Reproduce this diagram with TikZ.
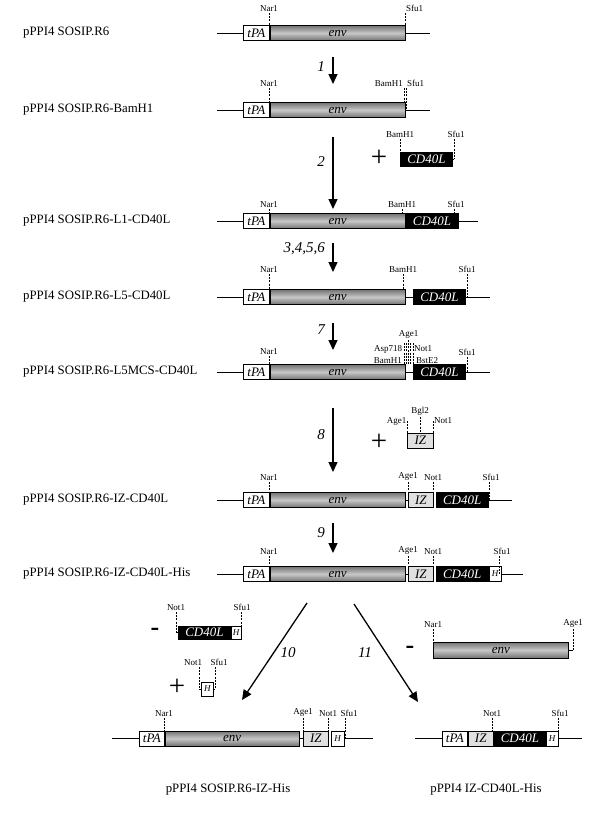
\documentclass[tikz,border=0pt]{standalone}
\usepackage{fontspec}
\setmainfont{Liberation Serif}
\usetikzlibrary{positioning,arrows.meta}
\newcommand{\sitefont}{\fontsize{9}{10}\selectfont}
\newcommand{\segfont}{\fontsize{13}{14}\selectfont\itshape}
% restriction site: name, x, top of cut, bottom of cut, label
\newcommand{\site}[6][]{%
	\coordinate (#2t) at (#3,#4);
	\coordinate (#2b) at (#3,#5);
	\node[site,#1] (#2) at (#2t) {#6};
	\draw[cut] (#2t) -- (#2b);
}
\tikzset{
	seg/.style={draw, line width=0.8pt, minimum height=15pt, inner sep=0pt, anchor=west, font=\segfont},
	tpa/.style={seg, fill=white, minimum width=26pt},
	envbox/.style={seg, minimum width=135pt, top color=black!55, bottom color=black!55, middle color=black!22},
	cdl/.style={seg, fill=black, text=white, minimum width=52pt},
	iz/.style={seg, fill=black!12, minimum width=25pt},
	his/.style={seg, fill=white, minimum width=12pt, font=\fontsize{9}{10}\selectfont\itshape},
	site/.style={anchor=south, inner sep=1pt, font=\sitefont},
	cut/.style={line width=0.8pt, dash pattern=on 2pt off 1.2pt},
	bb/.style={line width=1pt},
	title/.style={anchor=west, inner sep=0pt, font=\fontsize{12.8}{14}\selectfont},
	num/.style={inner sep=1pt, font=\fontsize{15}{16}\selectfont\itshape},
	convert/.style={line width=1.3pt, -{Triangle[length=10pt,width=9pt]}},
	plus/.style={inner sep=0pt, font=\fontsize{29}{29}\selectfont},
	minus/.style={inner sep=0pt, font=\fontsize{26}{26}\selectfont\bfseries}
}
\begin{document}
\begin{tikzpicture}[x=1pt,y=-1pt]
	\useasboundingbox (0,0) rectangle (600,814);
	% the seven constructs, all with tPA-env
	\foreach \y/\d/\txt [count=\k] in {33/20/{pPPI4 SOSIP.R6}, 110/22/{pPPI4 SOSIP.R6-BamH1}, 221/12/{pPPI4 SOSIP.R6-L1-CD40L}, 297/23/{pPPI4 SOSIP.R6-L5-CD40L}, 372/16/{pPPI4 SOSIP.R6-L5MCS-CD40L}, 500/18/{pPPI4 SOSIP.R6-IZ-CD40L}, 574/18/{pPPI4 SOSIP.R6-IZ-CD40L-His}}{
		\node[title] (p\k) at (23,\y) {\txt};
		\coordinate (l\k) at (217,\y);
		\node[tpa] (t\k) at (243,\y) {tPA};
		\node[envbox, right=0pt of t\k] (e\k) {env};
		\draw[bb] (l\k) -- (t\k);
		\site{nar\k}{269}{\y-\d}{\y-7.5}{Nar1}
	}
	% steps
	\foreach \ya/\yb/\yl/\num [count=\k] in {57/84/67/1, 137/209/162/2, 243/272/249/{3,4,5,6}, 323/350/330/7, 408/472/435/8, 523/553/533/9}{
		\coordinate (s\k) at (333,\ya);
		\coordinate (f\k) at (333,\yb);
		\draw[convert] (s\k) -- (f\k);
		\node[num, anchor=east] (n\k) at (326,\yl) {\num};
	}
	
	% row 1
	\coordinate (r1) at (430,33);
	\draw[bb] (e1) -- (r1);
	\site[anchor=south west]{sfu1}{405}{13}{33}{Sfu1}
	
	% row 2
	\coordinate (r2) at (430,110);
	\draw[bb] (e2) -- (r2);
	\site[anchor=south east]{bam2}{404}{88}{102.5}{BamH1}
	\site[anchor=south west]{sfu2}{406}{88}{110}{Sfu1}
	
	% CD40L insert
	\node[plus] (plusA) at (379,158) {+};
	\node[cdl, minimum height=14pt] (cdA) at (400,159) {CD40L};
	\site{bamA}{400}{139}{152}{BamH1}
	\site[xshift=2pt]{sfuA}{454}{139}{159}{Sfu1}
	\draw[line width=0.8pt] (sfuAb) -- (cdA.east);
	
	% row 3
	\node[cdl, right=0pt of e3] (cd3) {CD40L};
	\coordinate (r3) at (478,221);
	\draw[bb] (cd3) -- (r3);
	\site{bam3}{402}{209}{213.5}{BamH1}
	\site[xshift=2pt]{sfu3}{454}{209}{221}{Sfu1}
	
	% row 4
	\node[cdl] (cd4) at (413,297) {CD40L};
	\coordinate (r4) at (490,297);
	\draw[bb] (e4) -- (cd4) (cd4) -- (r4);
	\site{bam4}{403}{274}{289.5}{BamH1}
	\site{sfu4}{467}{274}{297}{Sfu1}
	
	% row 5, multiple cloning site
	\node[cdl] (cd5) at (413,372) {CD40L};
	\coordinate (r5) at (490,372);
	\draw[bb] (e5) -- (cd5) (cd5) -- (r5);
	\site{age5}{408.5}{340}{364.5}{Age1}
	\site[anchor=east, xshift=-3pt, yshift=-6pt]{asp5}{406.2}{343}{364.5}{Asp718}
	\site[anchor=west, xshift=2pt, yshift=-6pt]{not5}{410.8}{343}{364.5}{Not1}
	\site[anchor=east, xshift=-1pt, yshift=-18pt]{bam5}{404}{343}{364.5}{BamH1}
	\site[anchor=west, xshift=2pt, yshift=-18pt]{bst5}{413}{343}{364.5}{BstE2}
	\site{sfu5}{467}{357}{372}{Sfu1}
	
	% IZ insert
	\node[plus] (plusB) at (379,442) {+};
	\node[iz, minimum width=26pt] (izB) at (407,440.5) {IZ};
	\site[anchor=east]{ageB}{407.5}{421}{433}{Age1}
	\site{bglB}{420}{417}{433}{Bgl2}
	\site[anchor=west]{notB}{433}{421}{433}{Not1}
	
	% row 6
	\node[iz] (iz6) at (408,500) {IZ};
	\node[cdl, right=2pt of iz6] (cd6) {CD40L};
	\coordinate (r6) at (512,500);
	\draw[bb] (e6) -- (iz6) (cd6) -- (r6);
	\site{age6}{408}{482}{492.5}{Age1}
	\site{not6}{433}{482}{492.5}{Not1}
	\site[xshift=2pt]{sfu6}{489}{482}{500}{Sfu1}
	
	% row 7
	\node[iz] (iz7) at (408,574) {IZ};
	\node[cdl, right=2pt of iz7] (cd7) {CD40L};
	\node[his, right=0pt of cd7] (h7) {H};
	\coordinate (r7) at (523,574);
	\draw[bb] (e7) -- (iz7) (h7) -- (r7);
	\site{age7}{408}{556}{566.5}{Age1}
	\site{not7}{433}{556}{566.5}{Not1}
	\site[xshift=3pt]{sfu7}{499}{556}{574}{Sfu1}
	
	% steps 10 and 11
	\coordinate (s10) at (307,603);
	\coordinate (f10) at (242,700);
	\coordinate (s11) at (354,604);
	\coordinate (f11) at (418,702);
	\draw[convert] (s10) -- (f10);
	\draw[convert] (s11) -- (f11);
	\node[num] (n10) at (288,653) {10};
	\node[num] (n11) at (365,653) {11};
	
	% removed CD40L-H
	\node[minus] (minusA) at (155,632) {-};
	\node[cdl, minimum height=13pt] (cdM) at (178,632.5) {CD40L};
	\node[his, minimum height=13pt, minimum width=10pt, right=0pt of cdM] (hM) {H};
	\site{notM}{176}{612}{632.5}{Not1}
	\site[xshift=1pt]{sfuM}{241}{612}{632.5}{Sfu1}
	\draw[line width=0.8pt] (notMb) -- (cdM.west) (sfuMb) -- (hM.east);
	
	% added H
	\node[plus] (plusC) at (177,687) {+};
	\node[his, minimum height=14pt] (hP) at (201,689) {H};
	\site[xshift=-6pt]{notP}{199}{667}{689}{Not1}
	\site[xshift=4pt]{sfuP}{215}{667}{689}{Sfu1}
	\draw[line width=0.8pt] (notPb) -- (hP.west) (sfuPb) -- (hP.east);
	
	% removed env
	\node[minus] (minusB) at (410,650) {-};
	\node[envbox, minimum height=16pt] (envR) at (433,650) {env};
	\site{narR}{433}{629}{642}{Nar1}
	\site{ageR}{573}{629}{650}{Age1}
	\draw[line width=0.8pt] (ageRb) -- (envR.east);
	
	% pPPI4 SOSIP.R6-IZ-His
	\coordinate (lL) at (112,738.5);
	\coordinate (rL) at (373,738.5);
	\node[tpa, minimum width=25pt] (tL) at (139,738.5) {tPA};
	\node[envbox, minimum width=134pt, right=0pt of tL] (eL) {env};
	\node[iz] (izL) at (303,738.5) {IZ};
	\node[his, minimum width=13pt, right=2pt of izL] (hL) {H};
	\draw[bb] (lL) -- (tL) (eL) -- (izL) (hL) -- (rL);
	\site{narL}{164}{717.5}{731}{Nar1}
	\site{ageL}{303}{717.5}{731}{Age1}
	\site{notL}{328}{717.5}{731}{Not1}
	\site[xshift=4pt]{sfuL}{345}{717.5}{738.5}{Sfu1}
	\node[title, anchor=center] (capL) at (228,790) {pPPI4 SOSIP.R6-IZ-His};
	
	% pPPI4 IZ-CD40L-His
	\coordinate (lR) at (415,738.5);
	\coordinate (rR) at (582,738.5);
	\node[tpa, minimum width=25pt] (tR) at (442,738.5) {tPA};
	\node[iz, right=0pt of tR] (izR) {IZ};
	\node[cdl, minimum width=51pt] (cdR) at (494,738.5) {CD40L};
	\node[his, right=0pt of cdR] (hR) {H};
	\draw[bb] (lR) -- (tR) (izR) -- (cdR) (hR) -- (rR);
	\site{notR}{492}{717.5}{731}{Not1}
	\site[xshift=2pt]{sfuR}{558}{717.5}{738.5}{Sfu1}
	\node[title, anchor=center] (capR) at (486,790) {pPPI4 IZ-CD40L-His};
\end{tikzpicture}
\end{document}
